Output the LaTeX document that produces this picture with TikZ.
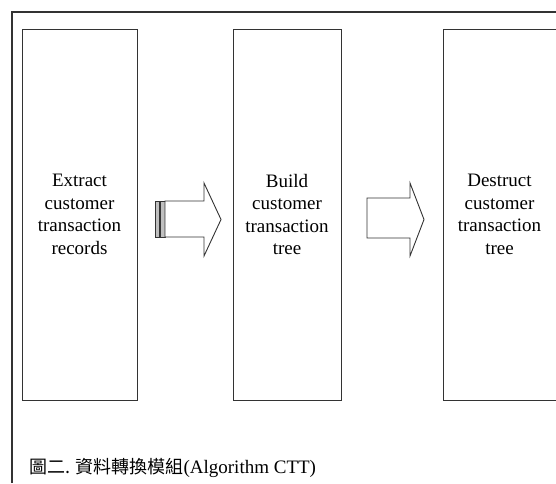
\documentclass[tikz,border=0pt]{standalone}
\usepackage{fontspec}
\setmainfont{Liberation Serif}
\newfontfamily\cjk{Noto Sans CJK TC}
\begin{document}
\begin{tikzpicture}[x=1pt,y=-1pt,
  lc/.style={draw=black!80,line width=0.9pt},
  stepbox/.style={lc,minimum height=371pt,inner sep=0pt,outer sep=0pt},
  boxtext/.style={align=center,font=\fontsize{19}{22.5}\selectfont},
  blockarrow/.style={lc,fill=white,line join=miter},
  stripe/.style={draw=black!80,line width=0.7pt,fill=black!25}]
\useasboundingbox (0,0) rectangle (556,483);
\clip (0,0) rectangle (556,483);
% outer frame (only top and left visible)
\draw[draw=black!80,line width=1.1pt] (12,483) -- (12,12) -- (570,12);
% process boxes
\node[stepbox,minimum width=115pt] (b1) at (79.5,214.5) {};
\node[stepbox,minimum width=108pt] (b2) at (287,214.5) {};
\node[stepbox,minimum width=125pt] (b3) at (505.5,214.5) {};
\node[boxtext] (t1) at (b1.center) {Extract\\customer\\transaction\\records};
\node[boxtext] (t2) at (b2.center) {Build\\customer\\transaction\\tree};
\node[boxtext] (t3) at (499.5,214.5) {Destruct\\customer\\transaction\\tree};
% striped arrow
\draw[stripe] (155,201) rectangle (159,237);
\draw[stripe] (160.5,201) rectangle (165,237);
\draw[blockarrow] (165,201) -- (204,201) -- (204,183) -- (221,219.5) -- (204,256) -- (204,237) -- (165,237) -- cycle;
% plain block arrow
\draw[blockarrow] (367,198) -- (410,198) -- (410,183) -- (424,219.5) -- (410,256) -- (410,238) -- (367,238) -- cycle;
% caption
\node[anchor=base west,inner sep=0pt] (cap) at (29,473)
  {{\cjk\fontsize{18}{18}\selectfont 圖二. 資料轉換模組}{\fontsize{19}{19}\selectfont(Algorithm CTT)}};
\end{tikzpicture}
\end{document}
